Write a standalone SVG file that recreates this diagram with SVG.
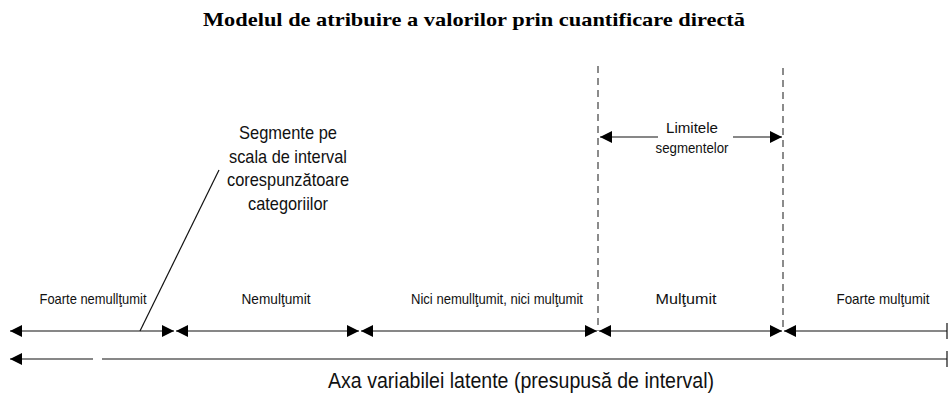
<svg xmlns="http://www.w3.org/2000/svg" width="948" height="397" viewBox="0 0 948 397">
<defs>
<marker id="ah" markerUnits="userSpaceOnUse" markerWidth="12" markerHeight="12" refX="12" refY="6" orient="auto-start-reverse" viewBox="0 0 12 12">
<path d="M0,0 L12,6 L0,12 z" fill="#000"/>
</marker>
<style>
.t{font-family:"Liberation Sans",Arial,sans-serif;fill:#111;}
.cat{font-size:15px;text-anchor:middle;}
.ln{stroke:#111;stroke-width:1.2;fill:none;}
.dash{stroke:#666;stroke-width:1.5;stroke-dasharray:7,5;fill:none;}
</style>
</defs>
<rect width="948" height="397" fill="#fff"/>
<g id="title">
<text x="474" y="26" font-family="'Liberation Serif','Times New Roman',serif" font-weight="bold" font-size="19.5" text-anchor="middle" fill="#000" textLength="542" lengthAdjust="spacingAndGlyphs">Modelul de atribuire a valorilor prin cuantificare directă</text>
</g>
<g id="limits">
<line class="dash" x1="598" y1="66" x2="598" y2="331"/>
<line class="dash" x1="783" y1="68" x2="783" y2="331"/>
</g>
<g id="connectors">
<line class="ln" x1="658" y1="137" x2="600" y2="137" marker-end="url(#ah)"/>
<line class="ln" x1="733" y1="137" x2="782" y2="137" marker-end="url(#ah)"/>
<line class="ln" x1="219" y1="170" x2="140" y2="331"/>
<line class="ln" x1="10" y1="331" x2="174" y2="331" marker-start="url(#ah)" marker-end="url(#ah)"/>
<line class="ln" x1="176" y1="331" x2="359" y2="331" marker-start="url(#ah)" marker-end="url(#ah)"/>
<line class="ln" x1="361" y1="331" x2="597" y2="331" marker-start="url(#ah)" marker-end="url(#ah)"/>
<line class="ln" x1="599" y1="331" x2="782" y2="331" marker-start="url(#ah)" marker-end="url(#ah)"/>
<line class="ln" x1="784" y1="331" x2="947" y2="331" marker-start="url(#ah)"/>
<line class="ln" x1="947" y1="323" x2="947" y2="339"/>
<line class="ln" x1="10" y1="359" x2="93" y2="359" marker-start="url(#ah)"/>
<line class="ln" x1="102" y1="359" x2="947" y2="359"/>
<line class="ln" x1="947" y1="351" x2="947" y2="367"/>
</g>
<g id="limits-label">
<text class="t" x="692" y="133" font-size="14.5" text-anchor="middle" textLength="52" lengthAdjust="spacingAndGlyphs">Limitele</text>
<text class="t" x="692" y="153" font-size="14.5" text-anchor="middle" textLength="73" lengthAdjust="spacingAndGlyphs">segmentelor</text>
</g>
<g id="segments-label">
<text class="t" x="288" y="139" font-size="19" text-anchor="middle" textLength="98" lengthAdjust="spacingAndGlyphs">Segmente  pe</text>
<text class="t" x="288" y="163" font-size="19" text-anchor="middle" textLength="118" lengthAdjust="spacingAndGlyphs">scala de interval</text>
<text class="t" x="288" y="186" font-size="19" text-anchor="middle" textLength="122" lengthAdjust="spacingAndGlyphs">corespunzătoare</text>
<text class="t" x="288" y="210" font-size="19" text-anchor="middle" textLength="80" lengthAdjust="spacingAndGlyphs">categoriilor</text>
</g>
<g id="cat1"><text class="t cat" x="93" y="304" textLength="107" lengthAdjust="spacingAndGlyphs">Foarte nemullţumit</text></g>
<g id="cat2"><text class="t cat" x="276" y="304" textLength="69" lengthAdjust="spacingAndGlyphs">Nemulţumit</text></g>
<g id="cat3"><text class="t cat" x="497" y="304" textLength="172" lengthAdjust="spacingAndGlyphs">Nici nemullţumit, nici mulţumit</text></g>
<g id="cat4"><text class="t cat" x="686" y="304" textLength="61" lengthAdjust="spacingAndGlyphs">Mulţumit</text></g>
<g id="cat5"><text class="t cat" x="883" y="304" textLength="93" lengthAdjust="spacingAndGlyphs">Foarte mulţumit</text></g>
<g id="axis-label">
<text class="t" x="521" y="388" font-size="22" text-anchor="middle" textLength="386" lengthAdjust="spacingAndGlyphs">Axa variabilei latente (presupusă de interval)</text>
</g>
</svg>
